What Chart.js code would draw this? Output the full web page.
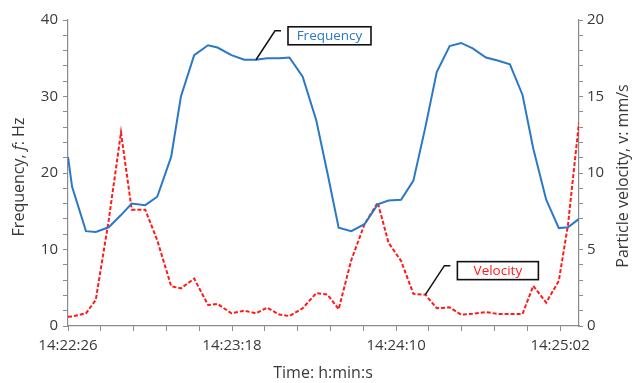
<!DOCTYPE html>
<html>
<head>
<meta charset="utf-8">
<script src="https://cdn.jsdelivr.net/npm/chart.js@4"></script>
<style>
  html, body { margin: 0; padding: 0; background: #fff; }
  #wrap { width: 633px; height: 383px; position: relative; }
</style>
</head>
<body>
<div id="wrap"><canvas id="myChart"></canvas></div>
<script>
// seconds after 14:22:26
const times = [0, 1.3, 5.7, 8.8, 12.9, 16.8, 20.2, 24.5, 28.3, 32.7, 35.8, 40.0, 44.4, 47.4, 51.8,
    55.9, 59.6, 63.1, 67.0, 70.2, 74.4, 78.7, 82.3, 85.8, 89.8, 94.0, 98.2, 101.6, 105.6, 109.5,
    113.3, 116.9, 121.0, 124.6, 128.3, 132.5, 136.2, 140.1, 144.1, 147.5, 151.6, 155.6, 158.5, 162];
const frequency = [22.1, 18.2, 12.4, 12.3, 12.9, 14.5, 16.0, 15.8, 16.9, 22.1, 30.0, 35.4, 36.7, 36.4, 35.4,
    34.8, 34.8, 35.0, 35.0, 35.1, 32.6, 26.9, 19.9, 12.85, 12.4, 13.3, 15.9, 16.4, 16.5, 19.0,
    26.0, 33.2, 36.6, 37.0, 36.3, 35.1, 34.7, 34.2, 30.2, 23.2, 16.5, 12.8, 12.9, 14.0];
const velocity = [0.61, 0.62, 0.83, 1.7, 6.9, 12.65, 7.6, 7.6, 5.6, 2.6, 2.46, 3.1, 1.37, 1.45, 0.83,
    1.0, 0.83, 1.2, 0.75, 0.65, 1.16, 2.15, 2.05, 1.1, 4.3, 6.65, 8.07, 5.45, 4.25, 2.1,
    2.05, 1.16, 1.22, 0.74, 0.8, 0.91, 0.79, 0.79, 0.79, 2.62, 1.53, 2.95, 6.6, 13.3];
const xTickLabels = ['14:22:26', '14:23:18', '14:24:10', '14:25:02'];
const tickStep = 10.4;

const blue = '#2b78c6';
const red = '#ff1a1a';
const axisGrey = '#8a8a8a';
const textColor = '#3a3a3a';
const fontFamily = '"Open Sans", sans-serif';

// draws the axis titles (with italic symbols) and the two callout labels
const extras = {
    id: 'extras',
    afterDatasetsDraw(chart) {
        const c = chart.ctx;
        const x = chart.scales.x;

        function callout(idx, axisId, values, text, color, boxW) {
            const px = x.getPixelForValue(times[idx]);
            const py = chart.scales[axisId].getPixelForValue(values[idx]);
            const ex = px + 19, ey = py - 29;
            c.save();
            c.strokeStyle = '#111';
            c.lineWidth = 1.5;
            c.beginPath();
            c.moveTo(px, py);
            c.lineTo(ex, ey);
            c.lineTo(ex + 6, ey);
            c.stroke();
            const bx = ex + 13, by = ey - 4, bh = 18;
            c.fillStyle = '#fff';
            c.fillRect(bx, by, boxW, bh);
            c.lineWidth = 1.6;
            c.strokeRect(bx, by, boxW, bh);
            c.fillStyle = color;
            c.font = '13.5px ' + fontFamily;
            c.textAlign = 'center';
            c.textBaseline = 'middle';
            c.fillText(text, bx + boxW / 2, by + bh / 2 + 0.5);
            c.restore();
        }
        callout(16, 'yF', frequency, 'Frequency', blue, 83);
        callout(30, 'yV', velocity, 'Velocity', red, 81);
    },
    afterDraw(chart) {
        const c = chart.ctx;

        function richText(parts, cx, cy, angle) {
            c.save();
            c.translate(cx, cy);
            c.rotate(angle);
            c.fillStyle = textColor;
            c.textBaseline = 'middle';
            c.textAlign = 'left';
            let total = 0;
            parts.forEach(p => {
                c.font = (p.italic ? 'italic ' : '') + '16px ' + fontFamily;
                p.w = c.measureText(p.t).width;
                total += p.w;
            });
            let pos = -total / 2;
            parts.forEach(p => {
                c.font = (p.italic ? 'italic ' : '') + '16px ' + fontFamily;
                c.fillText(p.t, pos, 0);
                pos += p.w;
            });
            c.restore();
        }
        richText([{ t: 'Frequency, ' }, { t: 'f', italic: true }, { t: ': Hz' }], 19, 177, -Math.PI / 2);
        richText([{ t: 'Particle velocity, v: mm/s' }], 623, 176, -Math.PI / 2);
        richText([{ t: 'Time: h:min:s' }], 323, 373, 0);
    }
};

const ctx = document.getElementById('myChart');

new Chart(ctx, {
    type: 'line',
    data: {
        datasets: [{
            label: 'Frequency',
            data: times.map((t, i) => ({ x: t, y: frequency[i] })),
            borderColor: blue,
            borderWidth: 2,
            pointRadius: 0,
            tension: 0,
            yAxisID: 'yF'
        }, {
            label: 'Velocity',
            data: times.map((t, i) => ({ x: t, y: velocity[i] })),
            borderColor: red,
            borderWidth: 2,
            borderDash: [4, 2],
            pointRadius: 0,
            tension: 0,
            yAxisID: 'yV'
        }]
    },
    options: {
        responsive: true,
        maintainAspectRatio: false,
        animation: false,
        layout: { padding: { top: 20, left: 0, right: 0, bottom: 0 } },
        plugins: {
            legend: { display: false },
            tooltip: { enabled: false }
        },
        scales: {
            x: {
                type: 'linear',
                min: 0,
                max: 162,
                afterBuildTicks: (scale) => {
                    const ticks = [];
                    for (let i = 0; i * tickStep <= 160; i++) ticks.push({ value: i * tickStep });
                    scale.ticks = ticks;
                },
                afterFit: (scale) => { scale.height = 57; },
                grid: { drawOnChartArea: false, drawTicks: true, tickLength: 5, color: axisGrey },
                border: { display: true, color: axisGrey, width: 1.2 },
                ticks: {
                    autoSkip: false,
                    maxRotation: 0,
                    padding: 6,
                    color: textColor,
                    font: { family: fontFamily, size: 15 },
                    callback: (v, i) => (i % 5 === 0 ? xTickLabels[i / 5] : '')
                }
            },
            yF: {
                position: 'left',
                min: 0,
                max: 40,
                afterFit: (scale) => { scale.width = 68; },
                grid: { drawOnChartArea: false, drawTicks: true, tickLength: 5, color: axisGrey },
                border: { display: true, color: axisGrey, width: 1.2 },
                ticks: {
                    stepSize: 2,
                    autoSkip: false,
                    padding: 5,
                    color: textColor,
                    font: { family: fontFamily, size: 15 },
                    callback: (v) => (v % 10 === 0 ? v : '')
                }
            },
            yV: {
                position: 'right',
                min: 0,
                max: 20,
                afterFit: (scale) => { scale.width = 54; },
                grid: { drawOnChartArea: false, drawTicks: true, tickLength: 4, color: axisGrey },
                border: { display: true, color: axisGrey, width: 1.2 },
                ticks: {
                    stepSize: 1,
                    autoSkip: false,
                    padding: 4,
                    color: textColor,
                    font: { family: fontFamily, size: 15 },
                    callback: (v) => (v % 5 === 0 ? v : '')
                }
            }
        }
    },
    plugins: [extras]
});
</script>
</body>
</html>
